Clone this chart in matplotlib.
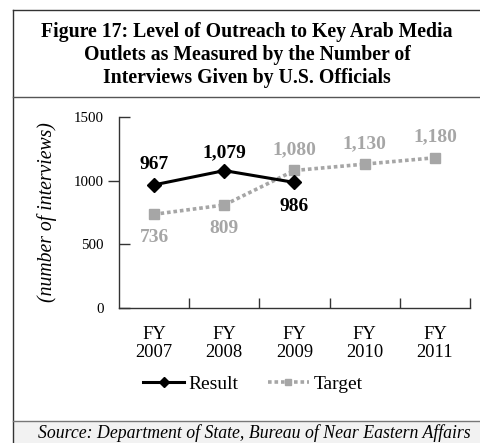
import matplotlib
matplotlib.use("Agg")
import matplotlib.pyplot as plt
import matplotlib.lines as mlines
from matplotlib.patches import Rectangle

plt.rcParams['font.family'] = ['Liberation Serif', 'DejaVu Serif']

years = ["FY\n2007", "FY\n2008", "FY\n2009", "FY\n2010", "FY\n2011"]
result = [967, 1079, 986]
target = [736, 809, 1080, 1130, 1180]
result_labels = ["967", "1,079", "986"]
target_labels = ["736", "809", "1,080", "1,130", "1,180"]

W, H = 481, 443
fig = plt.figure(figsize=(W / 100, H / 100), dpi=100)

# frame lines and source band
fig.add_artist(mlines.Line2D([13 / W, 13 / W], [0, 1 - 10 / H], color="#333333", lw=1.0))
fig.add_artist(mlines.Line2D([13 / W, 1], [1 - 10 / H, 1 - 10 / H], color="#333333", lw=1.0))
fig.add_artist(mlines.Line2D([13 / W, 1], [1 - 97 / H, 1 - 97 / H], color="#555555", lw=1.0))
fig.add_artist(Rectangle((13 / W, 0), 1 - 13 / W, 22 / H, transform=fig.transFigure,
                         facecolor="#f2f2f2", edgecolor="none", zorder=0))
fig.add_artist(mlines.Line2D([13 / W, 1], [22 / H, 22 / H], color="#777777", lw=1.0))

fig.text(247 / W, 1 - 55 / H,
         "Figure 17: Level of Outreach to Key Arab Media\nOutlets as Measured by the Number of\nInterviews Given by U.S. Officials",
         ha="center", va="center", fontsize=14.2, fontweight="bold", linespacing=1.2)
fig.text(254 / W, 10 / H, "Source: Department of State, Bureau of Near Eastern Affairs",
         ha="center", va="center", fontsize=12.8, style="italic")

ax = fig.add_axes([119 / W, 1 - 308 / H, (470 - 119) / W, (308 - 117) / H])
x = list(range(len(years)))

ax.plot(x[:len(result)], result, color="black", lw=2.2, marker="D", ms=7,
        label="Result", zorder=3)
ax.plot(x, target, color="#a6a6a6", lw=2.6, ls=(0, (1, 0.8)), marker="s", ms=6.5,
        label="Target", zorder=2)

res_off = [15, 13, -17]
for xi, v, t, off in zip(x, result, result_labels, res_off):
    ax.annotate(t, (xi, v), xytext=(0, off), textcoords="offset points",
                ha="center", va="center", fontsize=14, fontweight="bold", color="black")
tgt_off = [-17, -17, 15, 15, 15]
for xi, v, t, off in zip(x, target, target_labels, tgt_off):
    ax.annotate(t, (xi, v), xytext=(0, off), textcoords="offset points",
                ha="center", va="center", fontsize=14, fontweight="bold", color="#a6a6a6")

ax.set_xlim(-0.5, len(years) - 0.5)
ax.set_ylim(0, 1500)
ax.set_yticks([0, 500, 1000, 1500])
ax.set_yticklabels(["0", "500", "1000", "1500"])
ax.set_xticks(x)
ax.set_xticklabels(years)
ax.set_xticks([i + 0.5 for i in range(len(years) - 1)] + [len(years) - 0.5], minor=True)

ax.tick_params(axis="y", direction="in", length=8, width=1, colors="#333333",
               labelsize=10.7, labelcolor="black", pad=11)
ax.tick_params(axis="x", which="major", length=0, labelsize=13.3, pad=13)
ax.tick_params(axis="x", which="minor", direction="in", length=7, width=1, colors="#333333")
ax.yaxis.get_major_ticks()[2].tick1line.set_marker(mlines.TICKLEFT)
for lbl in ax.get_xticklabels():
    lbl.set_linespacing(1.05)

for s in ["top", "right"]:
    ax.spines[s].set_visible(False)
for s in ["left", "bottom"]:
    ax.spines[s].set_color("#333333")
    ax.spines[s].set_linewidth(1.0)

ax.set_ylabel("(number of interviews)", fontsize=14.2, style="italic", labelpad=12)
ax.patch.set_alpha(0)

fig.legend(loc="center", bbox_to_anchor=(253 / W, 1 - 384 / H), ncol=2, frameon=False,
           fontsize=14, handlelength=2.1, handletextpad=0.25, columnspacing=1.5,
           markerscale=0.75)

fig.savefig("out.png", dpi=100)
